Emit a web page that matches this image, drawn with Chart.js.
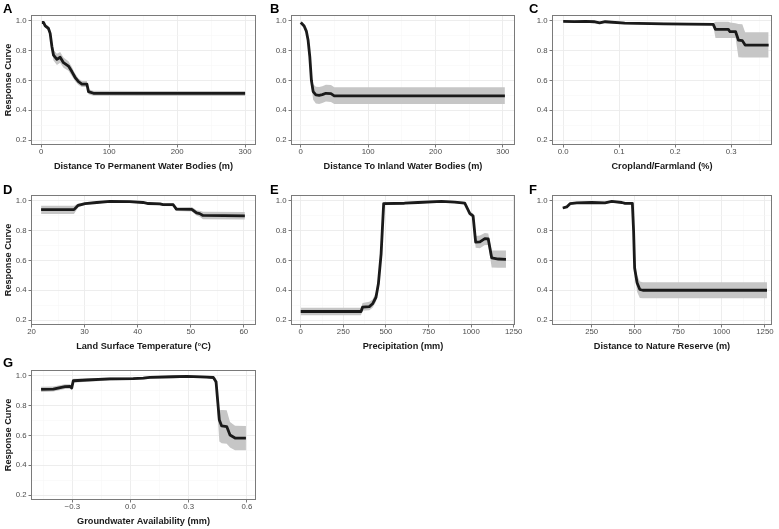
<!DOCTYPE html>
<html>
<head>
<meta charset="utf-8">
<script src="https://cdn.jsdelivr.net/npm/chart.js@4.4.1/dist/chart.umd.min.js"></script>
<style>
  html, body { margin: 0; padding: 0; background: #fff; overflow: hidden; }
  body { width: 779px; height: 529px; position: relative; font-family: 'Liberation Sans', Arial, sans-serif; }
  canvas { position: absolute; }
  .tag { position: absolute; font-weight: bold; font-size: 13px; line-height: 13px; color: #000; }
</style>
</head>
<body>
<script>
// shared y axis
const yMajor = [0.2, 0.4, 0.6, 0.8, 1.0];
const yLabels = ['0.2', '0.4', '0.6', '0.8', '1.0'];
const yMinor = [0.3, 0.5, 0.7, 0.9];

// A - permanent water bodies
const aX  = [1, 3.4, 5.9, 10.7, 13.2, 15.7, 18.1, 23.1, 27.9, 32.8, 40.1, 45.1, 50, 54.9, 59.9, 67.2, 69.6, 76.9, 150, 300];
const aY  = [0.99, 0.99, 0.967, 0.95, 0.917, 0.83, 0.77, 0.742, 0.756, 0.72, 0.697, 0.66, 0.62, 0.592, 0.576, 0.576, 0.525, 0.514, 0.513, 0.513];
const aLo = [0.98, 0.98, 0.955, 0.935, 0.897, 0.8, 0.735, 0.705, 0.72, 0.685, 0.665, 0.63, 0.595, 0.57, 0.556, 0.556, 0.508, 0.497, 0.496, 0.496];
const aHi = [1.0, 1.0, 0.979, 0.965, 0.937, 0.86, 0.805, 0.78, 0.792, 0.755, 0.73, 0.69, 0.645, 0.614, 0.596, 0.596, 0.542, 0.531, 0.53, 0.53];
const aMajor = [0, 100, 200, 300];
const aLabels = ['0', '100', '200', '300'];
const aMinor = [50, 150, 250];

// B - inland water bodies
const bX  = [0, 5, 8.4, 10.9, 13.4, 15.8, 18.4, 22.4, 27.3, 32, 37.3, 44.8, 49.7, 150, 303];
const bY  = [0.99, 0.966, 0.93, 0.87, 0.76, 0.60, 0.525, 0.503, 0.50, 0.505, 0.514, 0.512, 0.497, 0.497, 0.497];
const bLo = [0.98, 0.955, 0.915, 0.85, 0.73, 0.56, 0.47, 0.445, 0.442, 0.448, 0.458, 0.455, 0.442, 0.442, 0.442];
const bHi = [1.0, 0.977, 0.945, 0.89, 0.79, 0.64, 0.575, 0.558, 0.556, 0.562, 0.572, 0.57, 0.555, 0.555, 0.555];
const bMajor = [0, 100, 200, 300];
const bLabels = ['0', '100', '200', '300'];
const bMinor = [50, 150, 250];

// C - cropland
const cX  = [0, 0.02, 0.04, 0.055, 0.065, 0.075, 0.11, 0.18, 0.268, 0.272, 0.295, 0.298, 0.308, 0.313, 0.32, 0.325, 0.367];
const cY  = [0.998, 0.996, 0.997, 0.995, 0.987, 0.995, 0.986, 0.981, 0.977, 0.944, 0.944, 0.928, 0.928, 0.872, 0.868, 0.838, 0.838];
const cLo = [0.99, 0.988, 0.989, 0.987, 0.979, 0.987, 0.978, 0.973, 0.969, 0.885, 0.885, 0.885, 0.885, 0.757, 0.755, 0.755, 0.755];
const cHi = [1.006, 1.004, 1.005, 1.003, 0.995, 1.003, 0.994, 0.989, 0.985, 0.995, 0.995, 0.99, 0.985, 0.98, 0.978, 0.924, 0.924];
const cMajor = [0, 0.1, 0.2, 0.3];
const cLabels = ['0.0', '0.1', '0.2', '0.3'];
const cMinor = [0.05, 0.15, 0.25, 0.35];

// D - land surface temperature
const dX  = [21.8, 28.0, 28.8, 30.1, 32.3, 34.8, 38.5, 41.0, 42.0, 44.2, 44.8, 46.7, 47.3, 50.2, 51.1, 51.7, 52.3, 60.2];
const dY  = [0.942, 0.942, 0.971, 0.982, 0.99, 0.998, 0.996, 0.99, 0.983, 0.98, 0.975, 0.975, 0.945, 0.944, 0.92, 0.915, 0.903, 0.90];
const dLo = [0.912, 0.912, 0.958, 0.974, 0.983, 0.991, 0.989, 0.983, 0.976, 0.972, 0.966, 0.965, 0.932, 0.929, 0.903, 0.894, 0.878, 0.876];
const dHi = [0.968, 0.968, 0.984, 0.99, 0.997, 1.005, 1.003, 0.997, 0.99, 0.988, 0.984, 0.985, 0.958, 0.959, 0.937, 0.934, 0.928, 0.926];
const dMajor = [20, 30, 40, 50, 60];
const dLabels = ['20', '30', '40', '50', '60'];
const dMinor = [25, 35, 45, 55];

// E - precipitation
const eX  = [0, 354, 363, 403, 422, 442, 456, 472, 487, 609, 688, 826, 904, 963, 993, 1012, 1027, 1052, 1081, 1101, 1121, 1160, 1205];
const eY  = [0.257, 0.257, 0.286, 0.29, 0.309, 0.353, 0.443, 0.645, 0.982, 0.985, 0.99, 0.998, 0.993, 0.985, 0.915, 0.90, 0.724, 0.725, 0.747, 0.745, 0.618, 0.61, 0.608];
const eLo = [0.232, 0.232, 0.262, 0.265, 0.282, 0.322, 0.41, 0.615, 0.972, 0.978, 0.983, 0.991, 0.986, 0.977, 0.9, 0.882, 0.685, 0.683, 0.705, 0.705, 0.553, 0.551, 0.551];
const eHi = [0.283, 0.283, 0.315, 0.322, 0.338, 0.385, 0.475, 0.675, 0.992, 0.992, 0.997, 1.005, 1.0, 0.993, 0.93, 0.918, 0.765, 0.768, 0.785, 0.782, 0.668, 0.667, 0.667];
const eMajor = [0, 250, 500, 750, 1000, 1250];
const eLabels = ['0', '250', '500', '750', '1000', '1250'];
const eMinor = [125, 375, 625, 875, 1125];

// F - nature reserve
const fX  = [83, 106, 125, 164, 250, 327, 366, 424, 443, 485, 492, 498, 512, 528, 545, 1262];
const fY  = [0.953, 0.96, 0.982, 0.988, 0.99, 0.988, 0.997, 0.99, 0.984, 0.984, 0.8, 0.55, 0.45, 0.405, 0.40, 0.40];
const fLo = [0.946, 0.953, 0.975, 0.981, 0.983, 0.981, 0.99, 0.983, 0.977, 0.977, 0.79, 0.53, 0.39, 0.348, 0.346, 0.346];
const fHi = [0.96, 0.967, 0.989, 0.995, 0.997, 0.995, 1.004, 0.997, 0.991, 0.991, 0.81, 0.57, 0.5, 0.458, 0.454, 0.454];
const fMajor = [250, 500, 750, 1000, 1250];
const fLabels = ['250', '500', '750', '1000', '1250'];
const fMinor = [125, 375, 625, 875, 1125];

// G - groundwater
const gX  = [-0.461, -0.398, -0.338, -0.312, -0.303, -0.295, -0.226, -0.106, 0.014, 0.066, 0.1, 0.221, 0.29, 0.393, 0.427, 0.441, 0.449, 0.458, 0.47, 0.496, 0.513, 0.539, 0.595];
const gY  = [0.91, 0.912, 0.928, 0.93, 0.92, 0.968, 0.973, 0.98, 0.982, 0.985, 0.991, 0.995, 0.998, 0.993, 0.99, 0.962, 0.839, 0.704, 0.664, 0.66, 0.603, 0.583, 0.583];
const gLo = [0.893, 0.895, 0.912, 0.915, 0.905, 0.955, 0.962, 0.97, 0.973, 0.976, 0.982, 0.987, 0.99, 0.985, 0.98, 0.93, 0.74, 0.56, 0.548, 0.545, 0.52, 0.5, 0.5];
const gHi = [0.927, 0.929, 0.944, 0.945, 0.935, 0.981, 0.984, 0.99, 0.991, 0.994, 0.999, 1.003, 1.006, 1.001, 0.999, 0.985, 0.9, 0.77, 0.772, 0.77, 0.69, 0.666, 0.664];
const gMajor = [-0.3, 0, 0.3, 0.6];
const gLabels = ['\u22120.3', '0.0', '0.3', '0.6'];
const gMinor = [-0.45, -0.15, 0.15, 0.45];

const panels = [
  { tag: 'A', title: 'Distance To Permanent Water Bodies (m)', x: aX, y: aY, lo: aLo, hi: aHi, major: aMajor, labels: aLabels, minor: aMinor, xmin: -15, xmax: 316, col: 0, row: 0 },
  { tag: 'B', title: 'Distance To Inland Water Bodies (m)', x: bX, y: bY, lo: bLo, hi: bHi, major: bMajor, labels: bLabels, minor: bMinor, xmin: -14.5, xmax: 318, col: 1, row: 0 },
  { tag: 'C', title: 'Cropland/Farmland (%)', x: cX, y: cY, lo: cLo, hi: cHi, major: cMajor, labels: cLabels, minor: cMinor, xmin: -0.02, xmax: 0.373, col: 2, row: 0 },
  { tag: 'D', title: 'Land Surface Temperature (\u00B0C)', x: dX, y: dY, lo: dLo, hi: dHi, major: dMajor, labels: dLabels, minor: dMinor, xmin: 19.9, xmax: 62.3, col: 0, row: 1 },
  { tag: 'E', title: 'Precipitation (mm)', x: eX, y: eY, lo: eLo, hi: eHi, major: eMajor, labels: eLabels, minor: eMinor, xmin: -57, xmax: 1258, col: 1, row: 1 },
  { tag: 'F', title: 'Distance to Nature Reserve (m)', x: fX, y: fY, lo: fLo, hi: fHi, major: fMajor, labels: fLabels, minor: fMinor, xmin: 21, xmax: 1291, col: 2, row: 1 },
  { tag: 'G', title: 'Groundwater Availability (mm)', x: gX, y: gY, lo: gLo, hi: gHi, major: gMajor, labels: gLabels, minor: gMinor, xmin: -0.513, xmax: 0.647, col: 0, row: 2 }
];

// layout of the panel grid (plot-area pixels)
const colLeft = [31, 291, 552];
const colWidth = [225, 224, 220];
const rowTop = [15, 195, 370];
const plotH = 130;
const tagLeft = [3, 270, 529];
const tagTop = [2, 183, 356];

Chart.defaults.font.family = "'Liberation Sans', Arial, sans-serif";

const frame = {
  id: 'frame',
  afterDatasetsDraw(chart) {
    const { ctx, chartArea: a } = chart;
    ctx.save();
    ctx.strokeStyle = '#7a7a7a';
    ctx.lineWidth = 1;
    ctx.strokeRect(a.left + 0.5, a.top + 0.5, a.right - a.left - 1, a.bottom - a.top - 1);
    ctx.restore();
  }
};

const isIn = (arr, v) => arr.some(m => Math.abs(m - v) < 1e-9);
const pts = (xs, ys) => xs.map((x, i) => ({ x: x, y: ys[i] }));

function gridFor(major) {
  return {
    color: c => (c.tick && isIn(major, c.tick.value)) ? '#ebebeb' : '#f5f5f5',
    lineWidth: c => (c.tick && isIn(major, c.tick.value)) ? 0.9 : 0.5,
    tickColor: c => (c.tick && isIn(major, c.tick.value)) ? '#555' : 'rgba(0,0,0,0)',
    tickWidth: 0.8,
    tickLength: 2.5,
    drawTicks: true
  };
}

function labelFor(major, labels, v) {
  const i = major.findIndex(m => Math.abs(m - v) < 1e-9);
  return i >= 0 ? labels[i] : '';
}

panels.forEach(p => {
  const yW = p.col === 0 ? 31 : 32;
  const padTop = 8, padRight = 10, xH = 27;

  const cv = document.createElement('canvas');
  cv.width = yW + colWidth[p.col] + padRight;
  cv.height = padTop + plotH + xH;
  cv.style.left = (colLeft[p.col] - yW) + 'px';
  cv.style.top = (rowTop[p.row] - padTop) + 'px';
  document.body.appendChild(cv);

  const tag = document.createElement('div');
  tag.className = 'tag';
  tag.textContent = p.tag;
  tag.style.left = tagLeft[p.col] + 'px';
  tag.style.top = tagTop[p.row] + 'px';
  document.body.appendChild(tag);

  new Chart(cv.getContext('2d'), {
    type: 'line',
    data: {
      datasets: [
        { data: pts(p.x, p.y), borderColor: '#1a1a1a', borderWidth: 2.8, pointRadius: 0, fill: false, borderJoinStyle: 'round', tension: 0 },
        { data: pts(p.x, p.hi), borderColor: 'rgba(0,0,0,0)', borderWidth: 0, pointRadius: 0, backgroundColor: '#c6c6c6', fill: '+1' },
        { data: pts(p.x, p.lo), borderColor: 'rgba(0,0,0,0)', borderWidth: 0, pointRadius: 0, fill: false }
      ]
    },
    options: {
      responsive: false,
      animation: false,
      events: [],
      layout: { padding: { top: padTop, right: padRight, left: 0, bottom: 0 } },
      plugins: { legend: { display: false }, tooltip: { enabled: false } },
      scales: {
        x: {
          type: 'linear',
          min: p.xmin,
          max: p.xmax,
          afterBuildTicks: s => { s.ticks = p.major.concat(p.minor).sort((a, b) => a - b).map(v => ({ value: v })); },
          afterFit: s => { s.height = xH; },
          ticks: { autoSkip: false, maxRotation: 0, padding: 0, color: '#4d4d4d', font: { size: 7.8 },
                   callback: v => labelFor(p.major, p.labels, v) },
          grid: gridFor(p.major),
          border: { display: false },
          title: { display: true, text: p.title, color: '#1a1a1a', font: { size: 9.2, weight: 'bold' }, padding: 0 }
        },
        y: {
          type: 'linear',
          min: 0.1664,
          max: 1.0403,
          afterBuildTicks: s => { s.ticks = yMajor.concat(yMinor).sort((a, b) => a - b).map(v => ({ value: v })); },
          afterFit: s => { s.width = yW; },
          ticks: { autoSkip: false, padding: 2, color: '#4d4d4d', font: { size: 7.8 },
                   callback: v => labelFor(yMajor, yLabels, v) },
          grid: gridFor(yMajor),
          border: { display: false },
          title: { display: p.col === 0, text: 'Response Curve', color: '#1a1a1a', font: { size: 9.2, weight: 'bold' }, padding: { top: 2.5, bottom: 0 } }
        }
      }
    },
    plugins: [frame]
  });
});
</script>
</body>
</html>
